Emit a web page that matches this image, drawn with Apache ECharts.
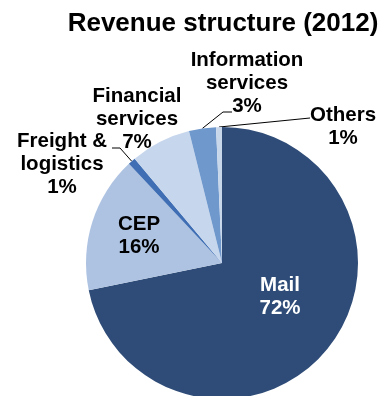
<!DOCTYPE html>
<html>
<head>
<meta charset="utf-8">
<script src="https://cdn.jsdelivr.net/npm/echarts@6/dist/echarts.min.js"></script>
<style>html,body{margin:0;padding:0;background:#fff}#c{width:385px;height:396px}</style>
</head>
<body>
<div id="c"></div>
<script>
var categories = ['Mail', 'CEP', 'Freight &\nlogistics', 'Financial\nservices', 'Information\nservices', 'Others'];
var values = [71.8, 16.2, 0.9, 7.2, 3.2, 0.7];
var pctLabels = ['72%', '16%', '1%', '7%', '3%', '1%'];
var colors = ['#2E4C77', '#AEC3E2', '#3F6EB4', '#C6D6EC', '#6F98CC', '#C9D7EB'];

// label placement (label centre) and leader-line end points, in chart pixels
var labelPlace = [
  {x: 280, y: 297, line: null},
  {x: 139, y: 236, line: null},
  {x: 62,  y: 164, line: [[120, 148], [112, 148]]},
  {x: 137, y: 119, line: null},
  {x: 247, y: 83,  line: [[223, 112], [232, 112]]},
  {x: 343, y: 127, line: [[310, 118]]}
];

var chart = echarts.init(document.getElementById('c'), null, {renderer: 'canvas'});
var data = categories.map(function (name, i) {
  return {
    name: name,
    value: values[i],
    itemStyle: {color: colors[i]},
    label: {color: i === 0 ? '#ffffff' : '#000000'},
    labelLine: {show: !!labelPlace[i].line}
  };
});

chart.setOption({
  animation: false,
  backgroundColor: '#ffffff',
  title: {
    text: 'Revenue structure (2012)',
    left: 218,
    top: 6,
    textAlign: 'center',
    textStyle: {fontFamily: 'Liberation Sans, Arial, sans-serif', fontWeight: 'bold', fontSize: 26, color: '#000'}
  },
  series: [{
    type: 'pie',
    center: [222, 263],
    radius: [0, 136],
    startAngle: 90,
    clockwise: true,
    avoidLabelOverlap: false,
    data: data,
    itemStyle: {borderWidth: 0},
    label: {
      show: true,
      position: 'outside',
      fontFamily: 'Liberation Sans, Arial, sans-serif',
      fontWeight: 'bold',
      fontSize: 20.5,
      lineHeight: 23,
      align: 'center',
      formatter: function (p) { return p.name + '\n' + pctLabels[p.dataIndex]; }
    },
    labelLine: {show: true, length: 10, length2: 10, lineStyle: {color: '#000', width: 1}},
    labelLayout: function (p) {
      var cfg = labelPlace[p.dataIndex];
      var res = {x: cfg.x, y: cfg.y, align: 'center', verticalAlign: 'middle'};
      if (cfg.line && p.labelLinePoints) {
        res.labelLinePoints = [p.labelLinePoints[0]].concat(cfg.line);
      }
      return res;
    }
  }]
});
</script>
</body>
</html>
